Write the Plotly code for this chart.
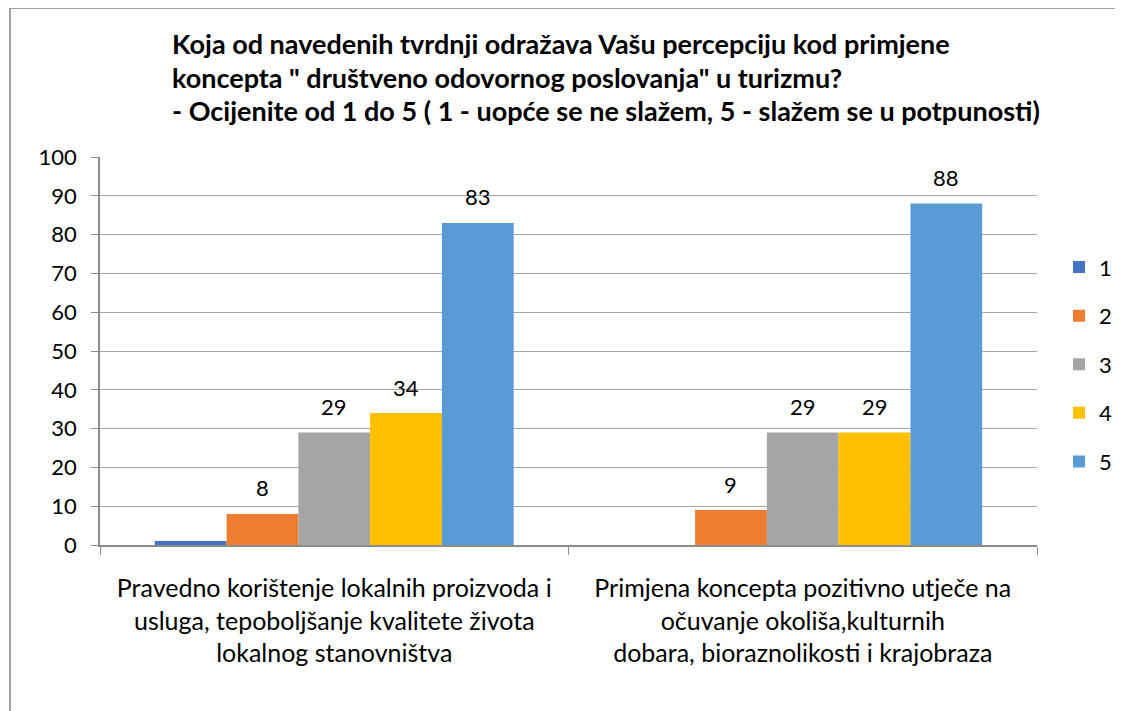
import plotly.graph_objects as go

# chart data
categories = [
    "Pravedno korištenje lokalnih proizvoda i<br>usluga, tepoboljšanje kvalitete života<br>lokalnog stanovništva",
    "Primjena koncepta pozitivno utječe na<br>očuvanje okoliša,kulturnih<br>dobara, bioraznolikosti i krajobraza",
]
series_names = ["1", "2", "3", "4", "5"]
values_1 = [1, 0]
values_2 = [8, 9]
values_3 = [29, 29]
values_4 = [34, 29]
values_5 = [83, 88]
show_labels = [False, True, True, True, True]  # series 1 has no data labels
y_ticks = list(range(0, 101, 10))
title_lines = [
    "Koja od navedenih tvrdnji odražava Vašu percepciju kod primjene",
    "koncepta \" društveno odovornog poslovanja\" u turizmu?",
    "- Ocijenite od 1 do 5 ( 1 - uopće se ne slažem, 5 - slažem se u potpunosti)",
]

colors = ["#4472C4", "#ED7D31", "#A5A5A5", "#FFC000", "#5B9BD5"]
all_values = [values_1, values_2, values_3, values_4, values_5]

FONT = "Lato, Open Sans, sans-serif"
plot_w, plot_h = 937, 388
bargap = 0.234
bar_px = plot_w / len(categories) * (1 - bargap) / len(series_names)

fig = go.Figure()
for i, (name, vals) in enumerate(zip(series_names, all_values)):
    fig.add_trace(go.Bar(
        x=categories, y=vals, name=name,
        marker_color=colors[i], marker_line_width=0,
        legendgroup=name,
    ))
    # data labels, lifted above the bar tops
    if show_labels[i]:
        for cat, v in zip(categories, vals):
            fig.add_annotation(x=cat, y=v, xref="x", yref="y", text=str(v),
                               showarrow=False, yanchor="middle", yshift=26,
                               xshift=(i - 2) * bar_px,
                               font=dict(family=FONT, size=22, color="#000000"))

# title, one annotation per line
for k, line in enumerate(title_lines):
    fig.add_annotation(x=70 / plot_w, y=(501 - 33 * k) / plot_h, xref="paper", yref="paper",
                       text="<b>" + line + "</b>", showarrow=False,
                       xanchor="left", yanchor="middle",
                       font=dict(family=FONT, size=27, color="#000000"))

fig.update_layout(
    width=1123, height=711,
    margin=dict(l=92, r=94, t=149, b=711 - 149 - plot_h),
    paper_bgcolor="white", plot_bgcolor="white",
    font=dict(family=FONT, size=21, color="#000000"),
    barmode="group", bargap=bargap, bargroupgap=0,
    legend=dict(x=1.0235, y=0.77, xanchor="left", yanchor="top",
                font=dict(size=22), tracegroupgap=17, bgcolor="rgba(0,0,0,0)"),
    showlegend=True,
)
fig.update_yaxes(
    range=[0, 100], tickvals=y_ticks, showgrid=True, gridcolor="#A6A6A6", gridwidth=1,
    showline=True, linecolor="#8C8C8C", linewidth=1.5, ticks="outside", ticklen=7,
    tickcolor="#8C8C8C", tickfont=dict(size=22), ticklabelstandoff=10, zeroline=False,
)
fig.update_xaxes(
    showline=True, linecolor="#8C8C8C", linewidth=2, ticks="outside", ticklen=8,
    tickcolor="#8C8C8C", tickson="boundaries", ticklabelstandoff=20,
    tickfont=dict(size=25),
)

# outer chart frame
fig.add_shape(type="rect", xref="paper", yref="paper",
              x0=(10 - 100) / plot_w, x1=(1116 - 100) / plot_w,
              y0=-0.6, y1=(545 - 8) / plot_h,
              line=dict(color="#A0A0A0", width=2), fillcolor="rgba(0,0,0,0)", layer="below")

fig.write_html("out.html")
